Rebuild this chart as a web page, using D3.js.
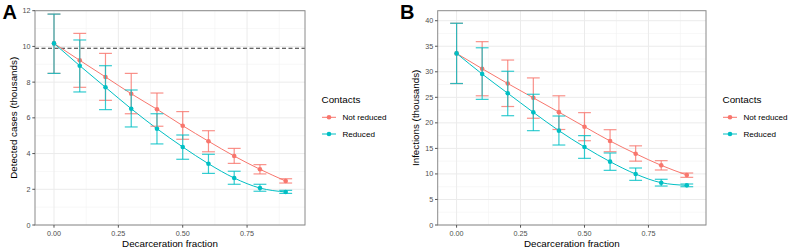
<!DOCTYPE html>
<html><head><meta charset="utf-8">
<script src="https://cdn.jsdelivr.net/npm/d3@7"></script>
<style>body{margin:0;background:#fff}svg{display:block;font-family:"Liberation Sans",Arial,sans-serif}</style>
</head><body>
<svg id="c" width="790" height="249"></svg>
<script>
const fractions = [0, 0.1, 0.2, 0.3, 0.4, 0.5, 0.6, 0.7, 0.8, 0.9];
const seriesNames = ["Not reduced", "Reduced"];
const colors = ["#F8766D", "#00BFC4"];

// Panel A: detected cases (thousands)
const casesNotReduced = [10.17, 9.22, 8.29, 7.35, 6.48, 5.56, 4.69, 3.86, 3.12, 2.46];
const casesNotReducedLo = [8.49, 7.71, 6.98, 6.23, 5.53, 4.80, 4.10, 3.45, 2.86, 2.35];
const casesNotReducedHi = [11.81, 10.73, 9.61, 8.49, 7.39, 6.35, 5.28, 4.29, 3.38, 2.59];
const casesReduced = [10.17, 8.92, 7.71, 6.51, 5.39, 4.37, 3.43, 2.63, 2.07, 1.85];
const casesReducedLo = [8.49, 7.45, 6.46, 5.49, 4.54, 3.68, 2.89, 2.28, 1.89, 1.77];
const casesReducedHi = [11.81, 10.36, 8.92, 7.56, 6.23, 5.04, 3.96, 3.01, 2.28, 1.94];
const casesReference = 9.9;
const casesTicks = [0, 2, 4, 6, 8, 10, 12];

// Panel B: infections (thousands)
const infNotReduced = [33.6, 30.6, 27.7, 24.9, 22.1, 19.25, 16.45, 13.96, 11.68, 9.79];
const infNotReducedLo = [27.7, 25.3, 23.2, 20.9, 18.7, 16.5, 14.35, 12.5, 10.77, 9.33];
const infNotReducedHi = [39.5, 35.9, 32.3, 28.8, 25.3, 22.0, 18.66, 15.5, 12.6, 10.18];
const infReduced = [33.6, 29.56, 25.8, 22.06, 18.47, 15.27, 12.4, 9.98, 8.28, 7.76];
const infReducedLo = [27.7, 24.6, 21.4, 18.47, 15.66, 13.05, 10.7, 8.74, 7.63, 7.5];
const infReducedHi = [39.5, 34.7, 30.1, 25.6, 21.34, 17.5, 14.1, 11.16, 8.95, 8.03];
const infTicks = [0, 5, 10, 15, 20, 25, 30, 35, 40];

const xTicks = [0, 0.25, 0.5, 0.75];
const xTickLabels = ["0.00", "0.25", "0.50", "0.75"];

const svg = d3.select("#c");

function panel(opt) {
  const g = svg.append("g");
  const x = d3.scaleLinear().domain([-0.0738, 0.975]).range([opt.left, opt.right]);
  const y = d3.scaleLinear().domain([0, opt.ymax]).range([225, 10.7]);
  const step = opt.yticks[1] - opt.yticks[0];
  const yMinor = [];
  for (let v = step / 2; v < opt.ymax; v += step) yMinor.push(v);
  const xMinor = [0.125, 0.375, 0.625, 0.875];
  g.selectAll(".ymi").data(yMinor).join("line").attr("x1", opt.left).attr("x2", opt.right)
    .attr("y1", d => y(d)).attr("y2", d => y(d)).attr("stroke", "#F2F2F2").attr("stroke-width", 0.6);
  g.selectAll(".xmi").data(xMinor).join("line").attr("y1", 10.7).attr("y2", 225)
    .attr("x1", d => x(d)).attr("x2", d => x(d)).attr("stroke", "#F2F2F2").attr("stroke-width", 0.6);
  g.selectAll(".yma").data(opt.yticks).join("line").attr("x1", opt.left).attr("x2", opt.right)
    .attr("y1", d => y(d)).attr("y2", d => y(d)).attr("stroke", "#EBEBEB").attr("stroke-width", 1);
  g.selectAll(".xma").data(xTicks).join("line").attr("y1", 10.7).attr("y2", 225)
    .attr("x1", d => x(d)).attr("x2", d => x(d)).attr("stroke", "#EBEBEB").attr("stroke-width", 1);

  if (opt.ref !== undefined) {
    g.append("line").attr("x1", opt.left).attr("x2", opt.right).attr("y1", y(opt.ref)).attr("y2", y(opt.ref))
      .attr("stroke", "#333").attr("stroke-width", 1.1).attr("stroke-dasharray", "4,2.5");
  }

  const line = d3.line().x((d, i) => x(fractions[i])).y(d => y(d)).curve(d3.curveMonotoneX);
  const capW = 0.025;
  opt.series.forEach((s, k) => {
    g.append("path").attr("d", line(s.mean)).attr("fill", "none").attr("stroke", colors[k]).attr("stroke-width", 1);
  });
  opt.series.forEach((s, k) => {
    const eb = g.append("g").attr("stroke", colors[k]).attr("stroke-width", 1.2).attr("stroke-opacity", 0.8).attr("fill", "none");
    fractions.forEach((f, i) => {
      eb.append("line").attr("x1", x(f)).attr("x2", x(f)).attr("y1", y(s.lo[i])).attr("y2", y(s.hi[i]));
      eb.append("line").attr("x1", x(f - capW)).attr("x2", x(f + capW)).attr("y1", y(s.lo[i])).attr("y2", y(s.lo[i]));
      eb.append("line").attr("x1", x(f - capW)).attr("x2", x(f + capW)).attr("y1", y(s.hi[i])).attr("y2", y(s.hi[i]));
    });
    g.selectAll(null).data(s.mean).join("circle").attr("cx", (d, i) => x(fractions[i])).attr("cy", d => y(d))
      .attr("r", 2.3).attr("fill", colors[k]);
  });

  g.append("rect").attr("x", opt.left).attr("y", 10.7).attr("width", opt.right - opt.left).attr("height", 225 - 10.7)
    .attr("fill", "none").attr("stroke", "#8A8A8A").attr("stroke-width", 1);

  g.selectAll(".yt").data(opt.yticks).join("line").attr("x1", opt.left - 2.7).attr("x2", opt.left)
    .attr("y1", d => y(d)).attr("y2", d => y(d)).attr("stroke", "#555").attr("stroke-width", 1);
  g.selectAll(".ytl").data(opt.yticks).join("text").attr("x", opt.left - 4.5).attr("y", d => y(d))
    .attr("dy", "0.35em").attr("text-anchor", "end").attr("font-size", 7.2).attr("fill", "#4D4D4D").text(d => d);
  g.selectAll(".xt").data(xTicks).join("line").attr("y1", 225).attr("y2", 227.7)
    .attr("x1", d => x(d)).attr("x2", d => x(d)).attr("stroke", "#555").attr("stroke-width", 1);
  g.selectAll(".xtl").data(xTicks).join("text").attr("x", d => x(d)).attr("y", 235.8)
    .attr("text-anchor", "middle").attr("font-size", 7.2).attr("fill", "#4D4D4D").text((d, i) => xTickLabels[i]);

  g.append("text").attr("x", (opt.left + opt.right) / 2).attr("y", 246.8).attr("text-anchor", "middle")
    .attr("font-size", 9.8).attr("fill", "#000").text("Decarceration fraction");
  g.append("text").attr("transform", `translate(${opt.ytitleX},${(10.7 + 225) / 2}) rotate(-90)`)
    .attr("text-anchor", "middle").attr("dy", "0.35em").attr("font-size", 9.8).attr("fill", "#000").text(opt.ytitle);

  g.append("text").attr("x", opt.letterX).attr("y", 19).attr("font-size", 20).attr("font-weight", "bold")
    .attr("fill", "#000").text(opt.letter);

  const lg = g.append("g");
  lg.append("text").attr("x", opt.legX).attr("y", 99.3).attr("dy", "0.35em").attr("font-size", 9.9).attr("fill", "#000").text("Contacts");
  seriesNames.forEach((n, k) => {
    const yy = 117.3 + k * 16.7;
    lg.append("line").attr("x1", opt.legX + 0.5).attr("x2", opt.legX + 14.5).attr("y1", yy).attr("y2", yy)
      .attr("stroke", colors[k]).attr("stroke-width", 1);
    lg.append("circle").attr("cx", opt.legX + 7.5).attr("cy", yy).attr("r", 2.3).attr("fill", colors[k]);
    lg.append("text").attr("x", opt.legX + 21).attr("y", yy).attr("dy", "0.35em").attr("font-size", 8.1)
      .attr("fill", "#000").text(n);
  });
}

panel({
  left: 35, right: 305, ymax: 12, yticks: casesTicks, ref: casesReference,
  ytitle: "Detected cases (thousands)", ytitleX: 13.3, letter: "A", letterX: 2.5, legX: 321.5,
  series: [
    {mean: casesNotReduced, lo: casesNotReducedLo, hi: casesNotReducedHi},
    {mean: casesReduced, lo: casesReducedLo, hi: casesReducedHi}
  ]
});
panel({
  left: 437.7, right: 706, ymax: 41.96, yticks: infTicks,
  ytitle: "Infections (thousands)", ytitleX: 415.7, letter: "B", letterX: 400, legX: 722.5,
  series: [
    {mean: infNotReduced, lo: infNotReducedLo, hi: infNotReducedHi},
    {mean: infReduced, lo: infReducedLo, hi: infReducedHi}
  ]
});
</script>
</body></html>
